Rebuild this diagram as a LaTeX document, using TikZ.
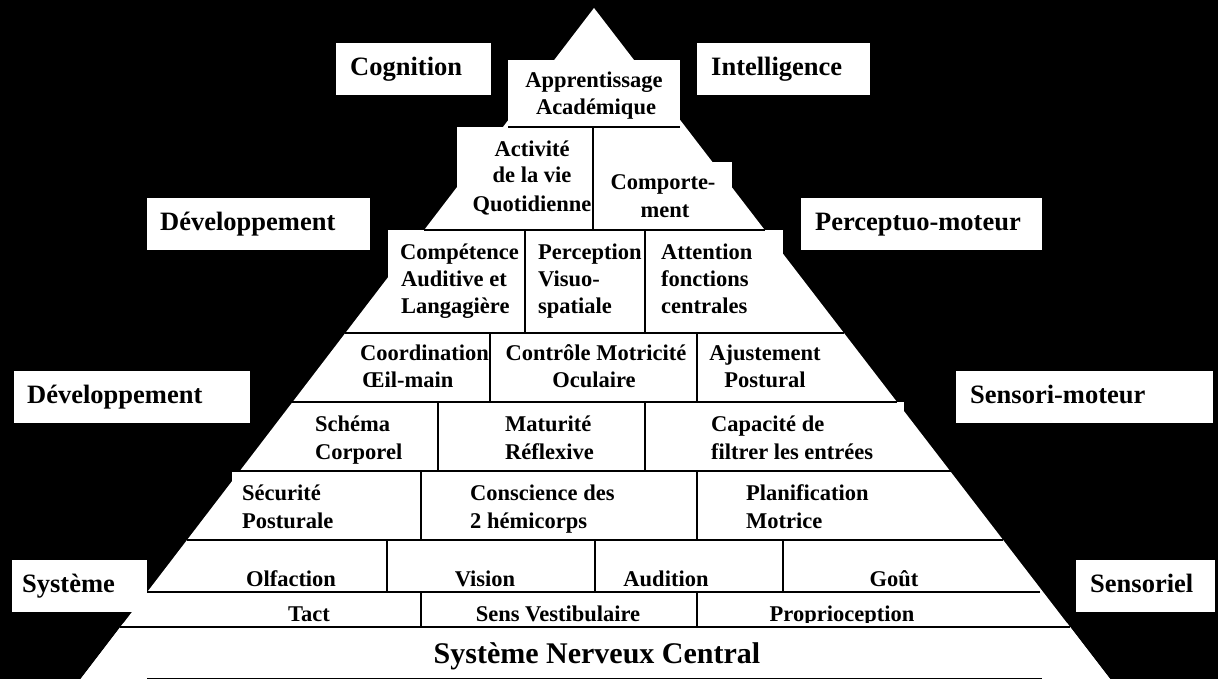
\documentclass[tikz,border=0pt]{standalone}
\usepackage{fontspec}
\setmainfont{Liberation Serif}
\newcommand{\cellf}{\fontsize{22.5}{27}\selectfont\bfseries}
\newcommand{\labf}{\fontsize{26.5}{30}\selectfont\bfseries}
\newcommand{\basef}{\fontsize{30}{34}\selectfont\bfseries}
\begin{document}
\begin{tikzpicture}[x=1pt,y=-1pt,
  cell/.style={font=\cellf, inner sep=0pt, text=black},
  cl/.style={cell, anchor=base west},
  cc/.style={cell, anchor=base},
  lbl/.style={fill=white, font=\labf, inner ysep=0pt, text height=32pt, text depth=20pt, align=left, anchor=north west, text=black},
  rule/.style={black, line width=1.5pt},
  ]
\useasboundingbox (0,0) rectangle (1218,679);
\fill[black] (0,0) rectangle (1218,679);
% pyramid body
\fill[white] (594,8) -- (80.7,679) -- (1110,679) -- cycle;
\fill[white] (508,60) rectangle (680,127);
\fill[white] (457,127) rectangle (593,230);
\fill[white] (593,162) rectangle (732,230);
\fill[white] (388,230) rectangle (783,333);
\fill[white] (292,402) rectangle (904,471);
\fill[white] (232,471) rectangle (951,540);
% row B
\node[cc] (apa) at (594,88) {Apprentissage};
\node[cc] (apb) at (596,115) {Académique};
% row C
\node[cc] (ava) at (532,157) {Activité};
\node[cc] (avb) at (532,183) {de la vie};
\node[cc] (avc) at (532,212) {Quotidienne};
\node[cc] (coa) at (663,190) {Comporte-};
\node[cc] (cob) at (665,218) {ment};
% row D
\node[cl] (da1) at (400,259) {Compétence};
\node[cl] (da2) at (401,286) {Auditive et};
\node[cl] (da3) at (401,313) {Langagière};
\node[cl] (db1) at (538,259) {Perception};
\node[cl] (db2) at (538,286) {Visuo-};
\node[cl] (db3) at (538,313) {spatiale};
\node[cl] (dc1) at (661,259) {Attention};
\node[cl] (dc2) at (661,286) {fonctions};
\node[cl] (dc3) at (661,313) {centrales};
% row E
\node[cl] (ea1) at (360,360) {Coordination};
\node[cl] (ea2) at (362,387) {Œil-main};
\node[cc] (eb1) at (596,360) {Contrôle Motricité};
\node[cc] (eb2) at (594,387) {Oculaire};
\node[cc] (ec1) at (765,360) {Ajustement};
\node[cc] (ec2) at (765,387) {Postural};
% row F
\node[cl] (fa1) at (315,431) {Schéma};
\node[cl] (fa2) at (315,459) {Corporel};
\node[cl] (fb1) at (505,431) {Maturité};
\node[cl] (fb2) at (505,459) {Réflexive};
\node[cl] (fc1) at (711,431) {Capacité de};
\node[cl] (fc2) at (711,459) {filtrer les entrées};
% row G
\node[cl] (ga1) at (242,500) {Sécurité};
\node[cl] (ga2) at (242,528) {Posturale};
\node[cl] (gb1) at (470,500) {Conscience des};
\node[cl] (gb2) at (470,528) {2 hémicorps};
\node[cl] (gc1) at (746,500) {Planification};
\node[cl] (gc2) at (746,528) {Motrice};
% row H
\node[cc] (ha) at (291,586) {Olfaction};
\node[cc] (hb) at (485,586) {Vision};
\node[cc] (hc) at (666,586) {Audition};
\node[cc] (hd) at (894,586) {Goût};
% row I
\node[cc] (ia) at (309,621) {Tact};
\node[cc] (ib) at (558,621) {Sens Vestibulaire};
\node[cc] (ic) at (842,621) {Proprioception};
% base row (covers descenders of the row above)
\fill[white] (123.5,623) -- (1067,623) -- (1110,679) -- (80.7,679) -- cycle;
% rules
\draw[rule] (508,127) -- (680,127);
\draw[rule] (593,127) -- (593,230);
\draw[rule] (424,230) -- (765,230);
\draw[rule] (525,230) -- (525,333);
\draw[rule] (645,230) -- (645,333);
\draw[rule] (345,333) -- (844,333);
\draw[rule] (490,333) -- (490,402);
\draw[rule] (697,333) -- (697,402);
\draw[rule] (292,402) -- (897,402);
\draw[rule] (438,402) -- (438,471);
\draw[rule] (645,402) -- (645,471);
\draw[rule] (232,471) -- (951,471);
\draw[rule] (421,471) -- (421,540);
\draw[rule] (697,471) -- (697,540);
\draw[rule] (187,540) -- (1003,540);
\draw[rule] (387,540) -- (387,592);
\draw[rule] (595,540) -- (595,592);
\draw[rule] (783,540) -- (783,592);
\draw[rule] (147,592) -- (1040,592);
\draw[rule] (421,592) -- (421,627);
\draw[rule] (697,592) -- (697,627);
\draw[rule] (120,627) -- (1070,627);
\draw[rule] (147,678.5) -- (1042,678.5);
\node[cc, font=\basef] (snc) at (597,663) {Système Nerveux Central};
% side labels
\node[lbl, inner xsep=14pt, text width=127pt] (cog) at (336,43) {Cognition};
\node[lbl, inner xsep=14pt, text width=145pt] (intl) at (697,43) {Intelligence};
\node[lbl, inner xsep=13pt, text width=197pt] (dev1) at (147,198) {Développement};
\node[lbl, inner xsep=14pt, text width=213pt] (perc) at (801,198) {Perceptuo-moteur};
\node[lbl, inner xsep=13pt, text width=210pt] (dev2) at (14,371) {Développement};
\node[lbl, inner xsep=14pt, text width=229pt] (senm) at (956,371) {Sensori-moteur};
\node[lbl, inner xsep=10pt, text width=115pt] (sys) at (12,560) {Système};
\node[lbl, inner xsep=14pt, text width=111pt] (sens) at (1076,560) {Sensoriel};
\end{tikzpicture}
\end{document}
